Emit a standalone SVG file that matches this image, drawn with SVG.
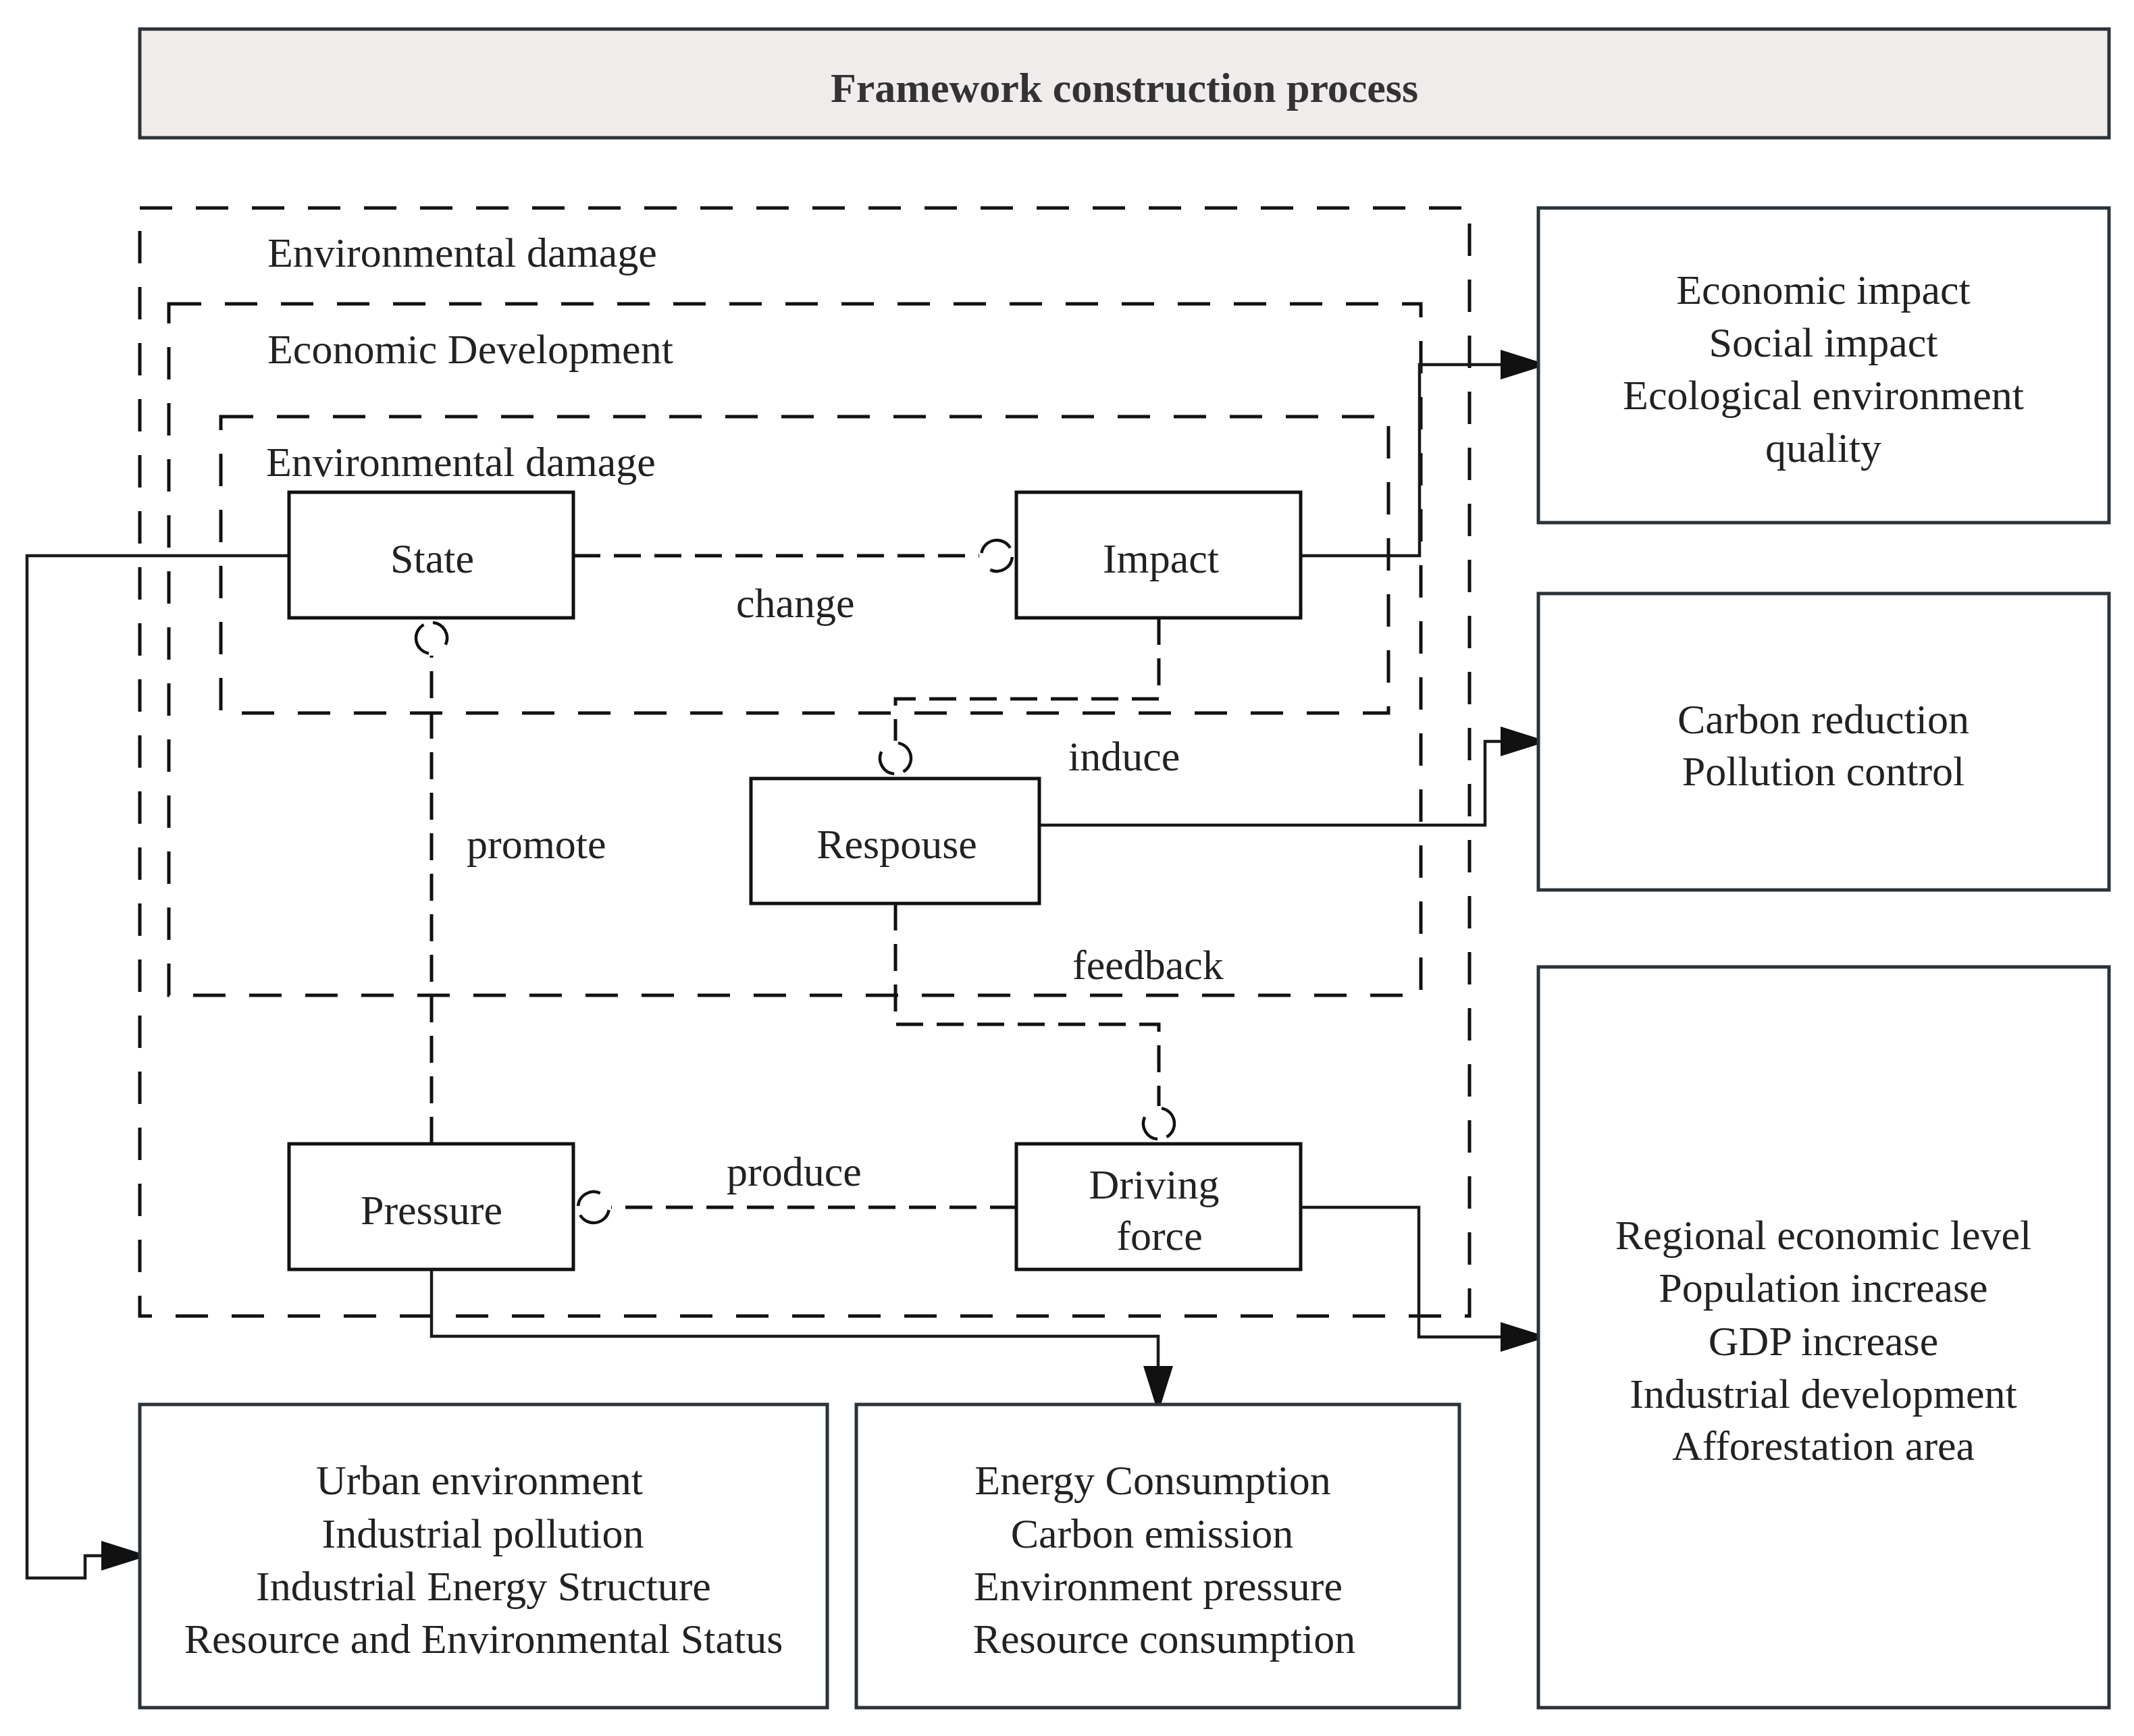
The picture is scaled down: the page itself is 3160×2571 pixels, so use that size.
<svg xmlns="http://www.w3.org/2000/svg" width="3160" height="2571" viewBox="0 0 3160 2571">
  <style>
    .t { font-family: "Liberation Serif", "Times New Roman", serif; font-size: 62px; fill: #222; }
    .c { text-anchor: middle; }
    .title { font-family: "Liberation Serif", "Times New Roman", serif; font-size: 62px; font-weight: bold; fill: #333; text-anchor: middle; }
    .node { fill: #fff; stroke: #111; stroke-width: 5; }
    .info { fill: #fff; stroke: #2b3339; stroke-width: 5; }
    .frame { fill: none; stroke: #111; stroke-width: 5; stroke-dasharray: 48 35; }
    .dline { fill: none; stroke: #111; stroke-width: 5; stroke-dasharray: 40 20; }
    .sline { fill: none; stroke: #1a1a1a; stroke-width: 4.5; }
  </style>
  <defs>
    <marker id="arrow" markerUnits="userSpaceOnUse" viewBox="0 -25 75 50" markerWidth="75" markerHeight="50" refX="70" refY="0" orient="auto">
      <path d="M0,-22 L70,0 L0,22 Z" fill="#111"/>
    </marker>
    <marker id="ring" markerUnits="userSpaceOnUse" viewBox="-5 -30 60 60" markerWidth="60" markerHeight="60" refX="0" refY="0" orient="auto">
      <path d="M3.35,-3.99 A23 23 0 0 1 45.92,-11.5 M48.91,2 A23 23 0 0 1 16.28,20.85" fill="none" stroke="#111" stroke-width="4.5"/>
    </marker>
  </defs>

  <rect width="3160" height="2571" fill="#fff"/>

  <g id="title">
    <rect x="207" y="43" width="2916" height="161" fill="#f0ecec" stroke="#2b3339" stroke-width="5"/>
    <text class="title" x="1665" y="151">Framework construction process</text>
  </g>

  <g id="frame-environmental-outer">
    <rect class="frame" x="207" y="308" width="1969" height="1641"/>
    <text class="t" x="396" y="395">Environmental damage</text>
  </g>
  <g id="frame-economic">
    <rect class="frame" x="250" y="450" width="1854" height="1024"/>
    <text class="t" x="396" y="538">Economic Development</text>
  </g>
  <g id="frame-environmental-inner">
    <rect class="frame" x="327" y="617" width="1729" height="439"/>
    <text class="t" x="394" y="705">Environmental damage</text>
  </g>

  <g id="connectors">
    <path class="dline" d="M849,823 L1450,823" marker-end="url(#ring)"/>
    <path class="dline" d="M639,1694 L639,971" marker-end="url(#ring)"/>
    <path class="dline" d="M1716,915 L1716,1035 L1326,1035 L1326,1097" marker-end="url(#ring)"/>
    <path class="dline" d="M1326,1338 L1326,1517 L1716,1517 L1716,1638" marker-end="url(#ring)"/>
    <path class="dline" d="M1506,1788 L905,1788" marker-end="url(#ring)"/>
    <path class="sline" d="M1926,823 L2102,823 L2102,540 L2292,540" marker-end="url(#arrow)"/>
    <path class="sline" d="M1539,1222 L2199,1222 L2199,1098 L2292,1098" marker-end="url(#arrow)"/>
    <path class="sline" d="M1926,1788 L2101,1788 L2101,1980 L2292,1980" marker-end="url(#arrow)"/>
    <path class="sline" d="M639,1880 L639,1979 L1715,1979 L1715,2093" marker-end="url(#arrow)"/>
    <path class="sline" d="M428,823 L40,823 L40,2337 L126,2337 L126,2304 L220,2304" marker-end="url(#arrow)"/>
    <text class="t" x="1090" y="914">change</text>
    <text class="t" x="691" y="1271">promote</text>
    <text class="t" x="1582" y="1141">induce</text>
    <text class="t" x="1588" y="1450">feedback</text>
    <text class="t" x="1076" y="1756">produce</text>
  </g>

  <g id="state">
    <rect class="node" x="428" y="729" width="421" height="186"/>
    <text class="t c" x="640" y="848">State</text>
  </g>
  <g id="impact">
    <rect class="node" x="1505" y="729" width="421" height="186"/>
    <text class="t c" x="1719" y="848">Impact</text>
  </g>
  <g id="respouse">
    <rect class="node" x="1112" y="1153" width="427" height="185"/>
    <text class="t c" x="1328" y="1271">Respouse</text>
  </g>
  <g id="pressure">
    <rect class="node" x="428" y="1694" width="421" height="186"/>
    <text class="t c" x="639" y="1813">Pressure</text>
  </g>
  <g id="driving-force">
    <rect class="node" x="1505" y="1694" width="421" height="186"/>
    <text class="t c" x="1709" y="1775">Driving</text>
    <text class="t c" x="1717" y="1851">force</text>
  </g>

  <g id="impact-indicators">
    <rect class="info" x="2278" y="308" width="845" height="466"/>
    <text class="t c" x="2700" y="450">Economic impact</text>
    <text class="t c" x="2700" y="528">Social impact</text>
    <text class="t c" x="2700" y="606">Ecological environment</text>
    <text class="t c" x="2700" y="684">quality</text>
  </g>
  <g id="response-indicators">
    <rect class="info" x="2278" y="879" width="845" height="439"/>
    <text class="t c" x="2700" y="1086">Carbon reduction</text>
    <text class="t c" x="2700" y="1163">Pollution control</text>
  </g>
  <g id="driving-indicators">
    <rect class="info" x="2278" y="1432" width="845" height="1097"/>
    <text class="t c" x="2700" y="1850">Regional economic level</text>
    <text class="t c" x="2700" y="1928">Population increase</text>
    <text class="t c" x="2700" y="2007">GDP increase</text>
    <text class="t c" x="2700" y="2085">Industrial development</text>
    <text class="t c" x="2700" y="2162">Afforestation area</text>
  </g>
  <g id="state-indicators">
    <rect class="info" x="207" y="2080" width="1018" height="449"/>
    <text class="t c" x="710" y="2213">Urban environment</text>
    <text class="t c" x="715" y="2292">Industrial pollution</text>
    <text class="t c" x="716" y="2370">Industrial Energy Structure</text>
    <text class="t c" x="716" y="2448">Resource and Environmental Status</text>
  </g>
  <g id="pressure-indicators">
    <rect class="info" x="1268" y="2080" width="893" height="449"/>
    <text class="t c" x="1707" y="2213">Energy Consumption</text>
    <text class="t c" x="1706" y="2292">Carbon emission</text>
    <text class="t c" x="1715" y="2370">Environment pressure</text>
    <text class="t c" x="1724" y="2448">Resource consumption</text>
  </g>
</svg>
